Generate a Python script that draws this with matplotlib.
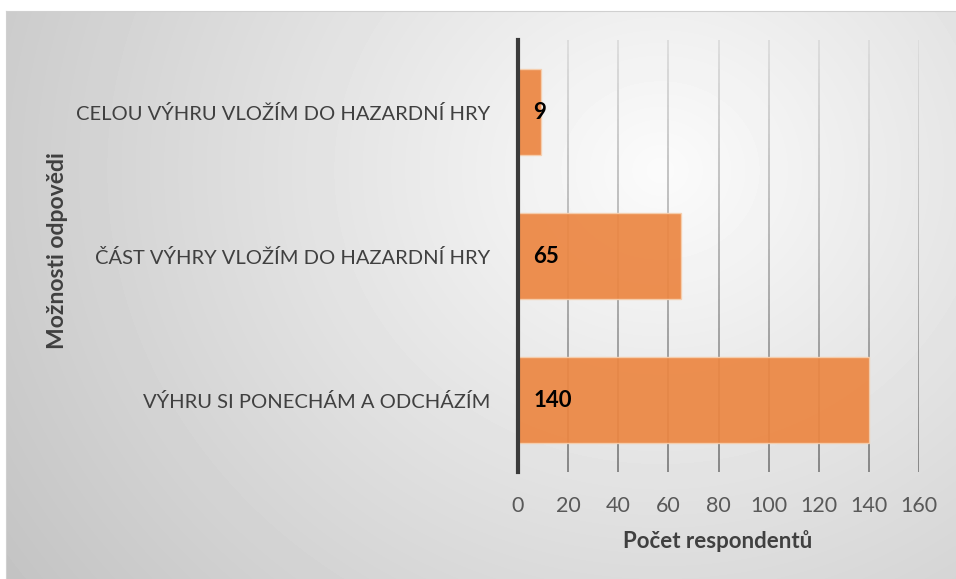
import matplotlib.pyplot as plt
import numpy as np
from matplotlib.collections import LineCollection

# data
categories = ['CELOU VÝHRU VLOŽÍM DO HAZARDNÍ HRY',
              'ČÁST VÝHRY VLOŽÍM DO HAZARDNÍ HRY',
              'VÝHRU SI PONECHÁM A ODCHÁZÍM']
values = [9, 65, 140]
xticks = [0, 20, 40, 60, 80, 100, 120, 140, 160]

plt.rcParams['font.family'] = ['Lato', 'DejaVu Sans']

W, H = 956, 579
fig = plt.figure(figsize=(W / 100, H / 100), dpi=100)
fig.patch.set_facecolor('white')

# chart area background with soft radial gradient
bg = fig.add_axes([6 / W, 0, 1 - 6 / W, 1 - 11 / H])
yy, xx = np.mgrid[11:H, 6:W]
d = np.hypot((xx - 660) * 0.9, yy - 170)
shade = np.clip(251 - 0.078 * d, 190, 251) / 255.0
bg.imshow(shade, cmap='gray', vmin=0, vmax=1, aspect='auto',
          extent=[0, 1, 0, 1], interpolation='bilinear')
bg.set_xlim(0, 1)
bg.set_ylim(0, 1)
for s in bg.spines.values():
    s.set_visible(False)
bg.spines['top'].set_visible(True)
bg.spines['left'].set_visible(True)
bg.spines['top'].set_color('#d0d0d0')
bg.spines['left'].set_color('#d0d0d0')
bg.set_xticks([])
bg.set_yticks([])

ax = fig.add_axes([518 / W, 1 - 472 / H, (919 - 518) / W, 432 / H])
ax.patch.set_alpha(0)
ax.set_xlim(0, 160)
ax.set_ylim(2.5, -0.5)

# vertical gridlines, lighter at the top
n = 60
ys = np.linspace(-0.5, 2.5, n + 1)
for t in xticks[1:]:
    segs = [[(t, ys[i]), (t, ys[i + 1])] for i in range(n)]
    g = np.linspace(0.86, 0.5, n)
    cols = [(c, c, c) for c in g]
    ax.add_collection(LineCollection(segs, colors=cols, linewidths=1.3, zorder=1))

ypos = np.arange(len(categories))
ax.barh(ypos, values, height=0.6, color='#ec8743', alpha=0.93,
        edgecolor='#f6cfae', linewidth=1, zorder=2)
for y, v in zip(ypos, values):
    ax.text(6, y, str(v), ha='left', va='center', fontsize=16,
            fontweight='bold', color='black', zorder=3)

ax.set_yticks(ypos)
ax.set_yticklabels(categories, fontsize=14.5, color='#404040')
ax.set_xticks(xticks)
ax.set_xticklabels([str(t) for t in xticks], fontsize=15.5, color='#595959')
ax.tick_params(axis='both', length=0)
ax.tick_params(axis='y', pad=20)
ax.tick_params(axis='x', pad=17)

for s in ['top', 'right', 'bottom']:
    ax.spines[s].set_visible(False)
ax.spines['left'].set_color('#3a3a3a')
ax.spines['left'].set_linewidth(3)
ax.spines['left'].set_zorder(4)

fig.text(718 / W, 1 - 541 / H, 'Počet respondentů', ha='center', va='center',
         fontsize=16, fontweight='bold', color='#404040')
fig.text(57 / W, 1 - 251 / H, 'Možnosti odpovědi', ha='center', va='center',
         rotation=90, fontsize=16.5, fontweight='bold', color='#404040')

fig.savefig('out.png', dpi=100)
